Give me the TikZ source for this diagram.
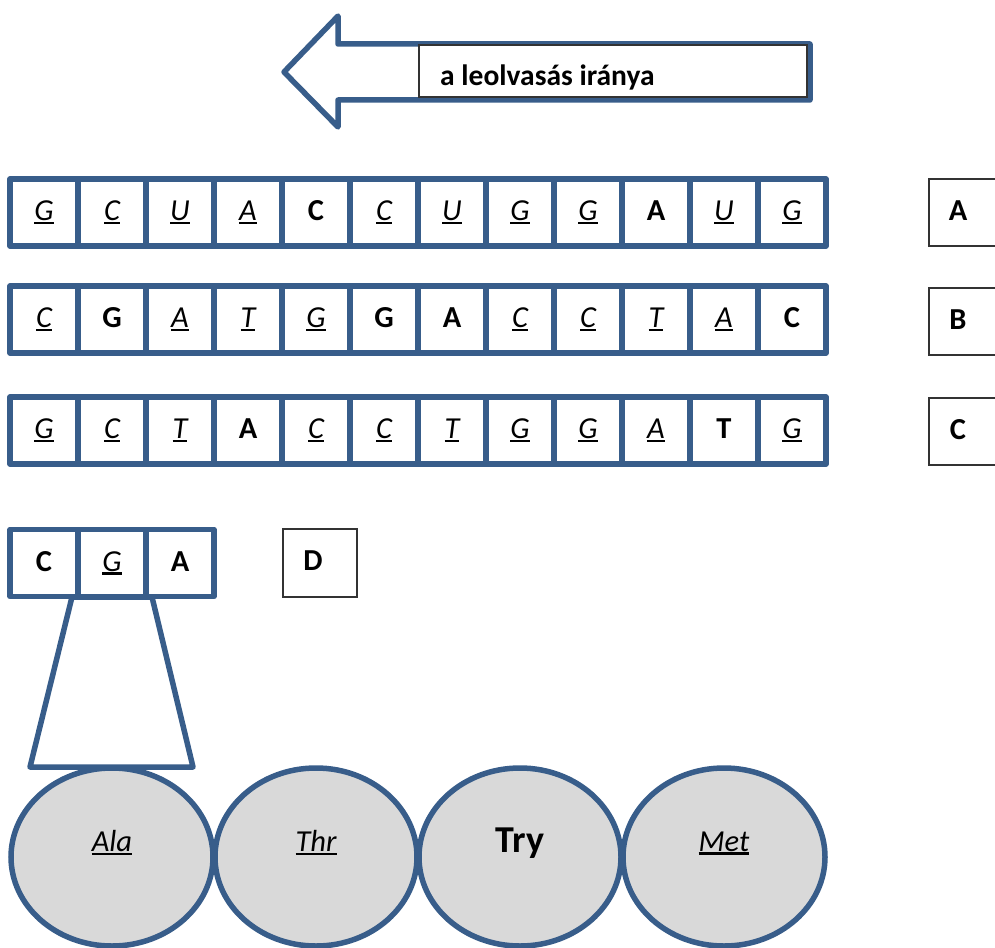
\documentclass[tikz,border=0pt]{standalone}
\usepackage{fontspec}
\setmainfont{Carlito}
\usetikzlibrary{shapes.geometric}
\definecolor{bl}{RGB}{56,93,138}
\definecolor{cellgray}{RGB}{217,217,217}
\newcommand\myul[1]{\setbox0\hbox{#1}\rlap{\rule[-3.5pt]{\wd0}{2.2pt}}\box0}
\newcommand\itl[1]{\myul{\itshape #1}}
\newcommand\bld[1]{{\bfseries #1}}
\tikzset{
  cell/.style={draw=bl, line width=5.5pt, line join=round, fill=white, minimum width=68pt, minimum height=67pt, inner sep=0pt, text height=20pt, text depth=4pt, font=\fontsize{30.5}{35}\selectfont},
  lblbox/.style={draw=black!80, line width=1.3pt, fill=white, inner sep=0pt},
  lbltxt/.style={inner sep=0pt, font=\fontsize{30.5}{35}\selectfont\bfseries},
  amino/.style={ellipse, draw=bl, line width=5.5pt, fill=cellgray, minimum width=202pt, minimum height=178pt, inner sep=0pt},
  aminotxt/.style={inner sep=0pt, font=\fontsize{30.5}{35}\selectfont},
  blueshape/.style={draw=bl, line width=5.5pt, line join=round, fill=white}
}
\begin{document}
\begin{tikzpicture}[x=1pt,y=-1pt]
\useasboundingbox (0,0) rectangle (995,947);
% reading direction arrow
\draw[blueshape] (284,72) -- (338,16) -- (338,44) -- (810,44) -- (810,100) -- (338,100) -- (338,127) -- cycle;
\node[lblbox, minimum width=388pt, minimum height=52pt] (dirbox) at (613,71) {};
\node[anchor=base west, inner sep=0pt, font=\fontsize{29.5}{34}\selectfont\bfseries] (dirtxt) at (440,86) {a leolvasás iránya};
% rows
\foreach \c [count=\i] in {\itl{G},\itl{C},\itl{U},\itl{A},\bld{C},\itl{C},\itl{U},\itl{G},\itl{G},\bld{A},\itl{U},\itl{G}}
  \node[cell] (ra\i) at ({44+68*(\i-1)},212.5) {\c};
\foreach \c [count=\i] in {\itl{C},\bld{G},\itl{A},\itl{T},\itl{G},\bld{G},\bld{A},\itl{C},\itl{C},\itl{T},\itl{A},\bld{C}}
  \node[cell] (rb\i) at ({44+68*(\i-1)},319.5) {\c};
\foreach \c [count=\i] in {\itl{G},\itl{C},\itl{T},\bld{A},\itl{C},\itl{C},\itl{T},\itl{G},\itl{G},\itl{A},\bld{T},\itl{G}}
  \node[cell] (rc\i) at ({44+68*(\i-1)},430.5) {\c};
% trapezoid (drawn before codon so box covers top)
\draw[blueshape] (72,597) -- (30,767) -- (193,767) -- (152,597) -- cycle;
\foreach \c [count=\i] in {\bld{C},\itl{G},\bld{A}}
  \node[cell] (rd\i) at ({44+68*(\i-1)},563) {\c};
% answer labels
\node[lblbox, minimum width=71pt, minimum height=67pt] (boxA) at (964.5,212.5) {};
\node[lbltxt] (txtA) at (958,211) {A};
\node[lblbox, minimum width=71pt, minimum height=67pt] (boxB) at (964.5,321.5) {};
\node[lbltxt] (txtB) at (958,320) {B};
\node[lblbox, minimum width=71pt, minimum height=67pt] (boxC) at (964.5,431.5) {};
\node[lbltxt] (txtC) at (958,430) {C};
\node[lblbox, minimum width=74pt, minimum height=68pt] (boxD) at (320,563) {};
\node[lbltxt] (txtD) at (313,561) {D};
% amino acids
\node[amino] (ala) at (112,857) {};
\node[amino] (thr) at (316,857) {};
\node[amino] (try) at (520,857) {};
\node[amino] (met) at (724,857) {};
\node[aminotxt] (alat) at (112,843) {\itl{Ala}};
\node[aminotxt] (thrt) at (316,843) {\itl{Thr}};
\node[aminotxt, font=\fontsize{38}{43}\selectfont\bfseries] (tryt) at (520,843) {Try};
\node[aminotxt] (mett) at (724,843) {\itl{Met}};
\end{tikzpicture}
\end{document}
